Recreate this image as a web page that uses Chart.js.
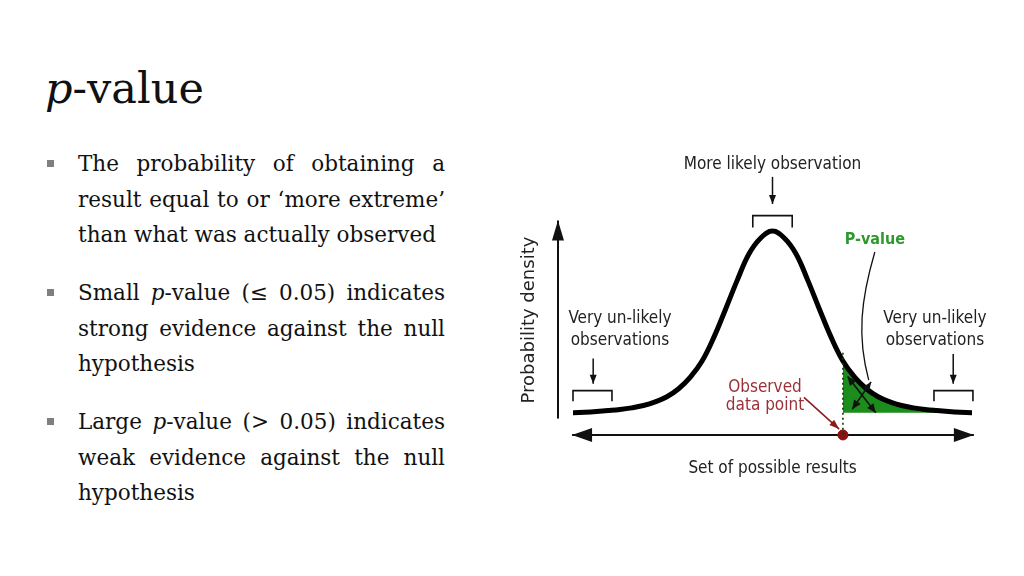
<!DOCTYPE html>
<html>
<head>
<meta charset="utf-8">
<script src="https://cdn.jsdelivr.net/npm/chart.js@4"></script>
<style>
  html, body { margin: 0; padding: 0; background: #fff; }
  body { width: 1024px; height: 576px; position: relative; overflow: hidden; font-family: "DejaVu Serif", serif; color: #111; }
  #title { position: absolute; left: 45px; top: 67px; font-size: 43px; line-height: 43px; }
  #bullets { position: absolute; left: 78px; top: 146px; width: 367px; font-size: 21.5px; }
  .para { margin-bottom: 22.5px; position: relative; }
  .para::before { content: ""; position: absolute; left: -31px; top: 14px; width: 7px; height: 7px; background: #7f7f7f; }
  .ln { height: 35.5px; line-height: 35.5px; white-space: nowrap; }
  .j { text-align: justify; text-align-last: justify; }
  #chartBox { position: absolute; left: 510px; top: 140px; width: 490px; height: 360px; }
</style>
</head>
<body>
<div id="title"><i>p</i>-value</div>
<div id="bullets">
  <div class="para">
    <div class="ln j">The probability of obtaining a</div>
    <div class="ln j">result equal to or ‘more extreme’</div>
    <div class="ln">than what was actually observed</div>
  </div>
  <div class="para">
    <div class="ln j">Small <i>p</i>-value (≤ 0.05) indicates</div>
    <div class="ln j">strong evidence against the null</div>
    <div class="ln">hypothesis</div>
  </div>
  <div class="para">
    <div class="ln j">Large <i>p</i>-value (&gt; 0.05) indicates</div>
    <div class="ln j">weak evidence against the null</div>
    <div class="ln">hypothesis</div>
  </div>
</div>
<div id="chartBox"><canvas id="pChart" width="490" height="360"></canvas></div>

<script>
// --- data ---
const results = [-4.25, -4, -3.75, -3.5, -3.25, -3, -2.75, -2.5, -2.25, -2, -1.75, -1.5, -1.25, -1, -0.75, -0.5, -0.25,
  0, 0.25, 0.5, 0.75, 1, 1.25, 1.5, 1.75, 2, 2.25, 2.5, 2.75, 3, 3.25, 3.5, 3.75, 4, 4.25];
const density = [0.000, 0.003, 0.007, 0.012, 0.018, 0.027, 0.040, 0.060, 0.088, 0.132, 0.196, 0.285, 0.415, 0.570, 0.730, 0.875, 0.962,
  1.000, 0.962, 0.875, 0.730, 0.570, 0.415, 0.285, 0.196, 0.132, 0.088, 0.060, 0.040, 0.027, 0.018, 0.012, 0.007, 0.003, 0.000];
const observed = 1.5;
const axisLevel = -0.122;

const curvePts = results.map((x, i) => ({ x: x, y: density[i] }));
const tailPts = curvePts.filter(p => p.x >= observed);

const labelFont = '"DejaVu Sans Condensed", "DejaVu Sans", sans-serif';

function arrowHead(ctx, x1, y1, x2, y2, len, half) {
  const a = Math.atan2(y2 - y1, x2 - x1);
  ctx.beginPath();
  ctx.moveTo(x2, y2);
  ctx.lineTo(x2 - len * Math.cos(a) + half * Math.sin(a), y2 - len * Math.sin(a) - half * Math.cos(a));
  ctx.lineTo(x2 - len * Math.cos(a) - half * Math.sin(a), y2 - len * Math.sin(a) + half * Math.cos(a));
  ctx.closePath();
  ctx.fill();
}

function arrow(ctx, x1, y1, x2, y2, w, len, half, both) {
  ctx.lineWidth = w;
  ctx.beginPath(); ctx.moveTo(x1, y1); ctx.lineTo(x2, y2); ctx.stroke();
  arrowHead(ctx, x1, y1, x2, y2, len, half);
  if (both) arrowHead(ctx, x2, y2, x1, y1, len, half);
}

function bracket(ctx, X, Y, xa, xb, top, bot) {
  ctx.lineWidth = 1.6;
  ctx.beginPath();
  ctx.moveTo(X(xa), Y(bot)); ctx.lineTo(X(xa), Y(top)); ctx.lineTo(X(xb), Y(top)); ctx.lineTo(X(xb), Y(bot));
  ctx.stroke();
}

const diagram = {
  id: 'diagram',
  beforeDatasetsDraw(chart) {
    const ctx = chart.ctx, sx = chart.scales.x, sy = chart.scales.y;
    const X = v => sx.getPixelForValue(v), Y = v => sy.getPixelForValue(v);
    ctx.save();
    ctx.strokeStyle = '#111'; ctx.fillStyle = '#111';
    // axes
    arrow(ctx, X(-4.57), Y(-0.032), X(-4.57), Y(1.058), 2, 20, 6, false);
    arrow(ctx, X(-4.27), Y(axisLevel), X(4.29), Y(axisLevel), 2, 20, 7, true);
    ctx.restore();
  },
  afterDatasetsDraw(chart) {
    const ctx = chart.ctx, sx = chart.scales.x, sy = chart.scales.y;
    const X = v => sx.getPixelForValue(v), Y = v => sy.getPixelForValue(v);
    ctx.save();
    // dotted line at the observed value
    ctx.strokeStyle = '#0b3d0b'; ctx.lineWidth = 1.6; ctx.setLineDash([2, 3]);
    ctx.beginPath(); ctx.moveTo(X(observed), Y(0.33)); ctx.lineTo(X(observed), Y(axisLevel)); ctx.stroke();
    ctx.setLineDash([]);

    ctx.strokeStyle = '#111'; ctx.fillStyle = '#111';
    // brackets
    bracket(ctx, X, Y, -0.42, 0.42, 1.085, 1.02);
    bracket(ctx, X, Y, -4.25, -3.42, 0.122, 0.064);
    bracket(ctx, X, Y, 3.44, 4.27, 0.122, 0.064);
    // down arrows
    arrow(ctx, X(0), Y(1.298), X(0), Y(1.149), 1.5, 9, 3.5, false);
    arrow(ctx, X(-3.82), Y(0.298), X(-3.82), Y(0.16), 1.5, 9, 3.5, false);
    arrow(ctx, X(3.85), Y(0.324), X(3.85), Y(0.16), 1.5, 9, 3.5, false);
    // crossing arrows in the tail
    arrow(ctx, X(1.6), Y(0.2), X(2.2), Y(0.0), 1.6, 9, 4, true);
    arrow(ctx, X(1.7), Y(0.02), X(2.1), Y(0.17), 1.6, 9, 4, true);
    // pointer from P-value label
    ctx.lineWidth = 1.3;
    ctx.beginPath();
    ctx.moveTo(X(2.18), Y(0.885));
    ctx.bezierCurveTo(X(1.88), Y(0.62), X(1.80), Y(0.42), X(2.05), Y(0.18));
    ctx.stroke();

    // observed arrow
    ctx.strokeStyle = '#8b1a1a'; ctx.fillStyle = '#8b1a1a';
    arrow(ctx, X(0.67), Y(0.085), X(1.42), Y(-0.09), 1.5, 10, 3.5, false);

    // texts
    ctx.textAlign = 'center'; ctx.textBaseline = 'middle';
    ctx.fillStyle = '#222';
    ctx.font = '17px ' + labelFont;
    ctx.fillText('More likely observation', X(0), Y(1.367));
    ctx.fillText('Very un-likely', X(-3.25), Y(0.521));
    ctx.fillText('observations', X(-3.25), Y(0.399));
    ctx.fillText('Very un-likely', X(3.46), Y(0.521));
    ctx.fillText('observations', X(3.46), Y(0.399));
    ctx.fillText('Set of possible results', X(0), Y(-0.309));
    ctx.fillStyle = '#9b3038';
    ctx.fillText('Observed', X(-0.16), Y(0.138));
    ctx.fillText('data point', X(-0.16), Y(0.042));
    ctx.fillStyle = '#2e9a2e';
    ctx.font = 'bold 16px ' + labelFont;
    ctx.fillText('P-value', X(2.18), Y(0.952));
    ctx.fillStyle = '#222';
    ctx.font = '18px "DejaVu Sans", sans-serif';
    ctx.translate(X(-5.17), Y(0.51));
    ctx.rotate(-Math.PI / 2);
    ctx.fillText('Probability density', 0, 0);
    ctx.restore();
  }
};

new Chart(document.getElementById('pChart'), {
  type: 'line',
  data: {
    datasets: [
      {
        data: curvePts, borderColor: '#000', borderWidth: 5, pointRadius: 0,
        tension: 0.4, fill: false, borderCapStyle: 'round'
      },
      {
        data: tailPts, borderColor: 'transparent', borderWidth: 0, pointRadius: 0,
        tension: 0.4, backgroundColor: '#1c8c1c', fill: 'origin'
      },
      {
        type: 'scatter', data: [{ x: observed, y: axisLevel }], pointRadius: 5,
        backgroundColor: '#8b1010', borderColor: '#8b1010'
      }
    ]
  },
  options: {
    responsive: false,
    animation: false,
    layout: { padding: { left: 63, right: 28, top: 0, bottom: 0 } },
    scales: {
      x: { type: 'linear', min: -4.25, max: 4.25, display: false },
      y: { min: -0.447, max: 1.468, display: false }
    },
    plugins: { legend: { display: false }, tooltip: { enabled: false } }
  },
  plugins: [diagram]
});
</script>
</body>
</html>
